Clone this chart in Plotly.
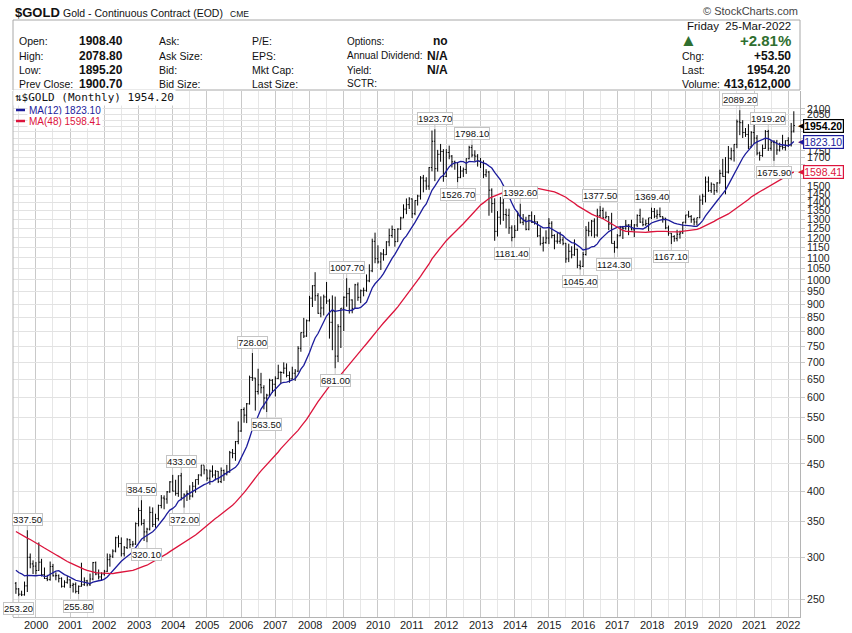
import numpy as np
import pandas as pd
import plotly.graph_objects as go

# ---------------- data (monthly, Jun-1999 .. Mar-2022) ----------------
start_month = "1999-06-01"

opens = [
    268.0, 261.5, 255.6, 254.9, 265.0, 300.0, 291.5,
    288.7, 283.3, 293.7, 278.4, 273.6, 272.3, 288.2, 276.8, 277.0, 273.7, 264.5, 269.1,
    272.0, 265.6, 266.7, 258.7, 264.5, 266.3, 270.8, 266.2, 273.0, 293.1, 279.0, 275.5,
    279.0, 282.3, 296.9, 301.4, 308.2, 326.6, 318.5, 304.6, 312.8, 323.7, 316.9, 317.7,
    347.2, 367.5, 347.5, 334.9, 339.0, 364.5, 346.0, 354.8, 375.6, 388.0, 386.3, 398.4,
    416.1, 399.8, 395.9, 427.3, 388.5, 393.3, 395.8, 391.4, 408.3, 420.4, 428.8, 447.5,
    438.4, 422.9, 435.9, 428.7, 435.7, 416.7, 437.1, 430.9, 434.5, 472.3, 470.8, 495.7,
    518.9, 569.6, 556.0, 584.0, 654.5, 653.0, 616.0, 634.2, 626.3, 598.8, 606.3, 646.7,
    635.7, 652.0, 669.7, 669.0, 681.6, 660.3, 650.9, 666.9, 673.0, 743.0, 795.3, 783.5,
    837.5, 923.7, 975.0, 933.5, 865.1, 885.2, 928.6, 912.4, 831.8, 871.2, 718.3, 816.2,
    884.3, 927.3, 942.0, 916.5, 883.6, 978.8, 927.1, 953.9, 955.5, 995.8, 1040.0, 1182.3,
    1096.2, 1081.0, 1118.9, 1115.5, 1179.2, 1212.2, 1244.5, 1180.4, 1246.9, 1308.3, 1359.4, 1386.1,
    1421.1, 1332.8, 1411.0, 1439.0, 1556.4, 1536.6, 1502.3, 1628.3, 1825.1, 1620.4, 1724.7, 1746.0,
    1566.8, 1738.0, 1711.3, 1669.3, 1664.0, 1560.0, 1604.2, 1614.9, 1691.9, 1776.0, 1719.1, 1710.9,
    1675.8, 1663.4, 1578.1, 1597.1, 1476.1, 1392.6, 1234.5, 1312.4, 1395.8, 1328.0, 1323.6, 1253.0,
    1202.3, 1240.1, 1321.6, 1283.8, 1295.9, 1245.6, 1321.3, 1282.6, 1286.7, 1210.5, 1171.6, 1175.2,
    1199.3, 1278.5, 1212.6, 1183.1, 1182.4, 1189.4, 1171.9, 1095.4, 1132.2, 1114.8, 1142.3, 1065.3,
    1060.3, 1116.4, 1240.5, 1235.1, 1290.5, 1214.9, 1321.0, 1351.3, 1309.3, 1315.8, 1274.2, 1171.3,
    1151.7, 1210.9, 1253.8, 1251.2, 1268.3, 1268.9, 1242.3, 1269.3, 1322.2, 1284.8, 1271.0, 1276.7,
    1309.3, 1345.2, 1318.6, 1327.3, 1315.9, 1307.0, 1253.2, 1224.3, 1206.7, 1196.2, 1219.0, 1226.0,
    1284.7, 1325.2, 1316.1, 1298.5, 1285.7, 1310.2, 1413.7, 1437.8, 1529.4, 1472.9, 1514.8, 1473.2,
    1523.1, 1587.9, 1566.7, 1596.6, 1694.2, 1751.7, 1800.5, 1985.9, 1978.6, 1895.5, 1879.9, 1780.9,
    1895.1, 1850.3, 1733.6, 1715.6, 1769.0, 1903.9, 1770.1, 1817.2, 1818.0, 1757.0, 1783.9, 1776.5,
    1829.7, 1797.0, 1908.4,
]
highs = [
    269.5, 262.5, 259.5, 270.0, 337.5, 305.0, 296.0,
    294.0, 320.0, 298.0, 287.0, 278.0, 294.5, 291.5, 281.0, 278.5, 275.0, 271.5, 276.5,
    272.5, 268.5, 269.0, 265.5, 293.0, 275.0, 272.0, 279.5, 294.0, 294.5, 284.5, 281.0,
    284.0, 305.0, 304.5, 310.5, 328.0, 330.0, 327.0, 315.0, 326.0, 325.0, 322.0, 349.0,
    372.0, 384.5, 354.0, 341.0, 374.0, 372.5, 362.5, 377.0, 393.0, 392.5, 400.0, 417.5,
    429.0, 420.0, 428.0, 433.0, 396.0, 401.0, 410.0, 416.0, 420.5, 430.0, 448.0, 447.0,
    439.0, 439.0, 447.0, 438.0, 436.0, 443.0, 439.0, 448.0, 476.0, 480.0, 497.0, 541.0,
    571.0, 575.0, 586.0, 660.0, 728.0, 654.0, 680.0, 668.0, 633.0, 610.0, 651.0, 650.0,
    658.0, 692.0, 672.0, 699.0, 696.0, 672.0, 686.0, 679.0, 750.0, 796.0, 848.0, 842.0,
    933.0, 977.0, 1033.9, 944.0, 931.0, 938.0, 991.0, 921.0, 935.0, 930.0, 825.0, 885.0,
    931.0, 1007.7, 966.0, 919.0, 983.0, 989.0, 959.0, 967.0, 1024.0, 1070.0, 1196.0, 1227.5,
    1162.0, 1128.0, 1143.0, 1183.0, 1249.0, 1266.0, 1247.0, 1251.0, 1315.0, 1388.0, 1424.0, 1432.0,
    1424.0, 1413.0, 1447.0, 1569.0, 1577.0, 1561.0, 1632.0, 1912.0, 1923.7, 1758.0, 1804.0, 1764.0,
    1764.0, 1791.0, 1719.0, 1678.0, 1667.0, 1640.0, 1628.0, 1695.0, 1790.0, 1798.1, 1755.0, 1726.0,
    1698.0, 1680.0, 1617.0, 1605.0, 1488.0, 1425.0, 1348.0, 1433.0, 1424.0, 1362.0, 1362.0, 1267.0,
    1268.0, 1346.0, 1392.6, 1331.0, 1315.0, 1326.0, 1346.0, 1325.0, 1289.0, 1256.0, 1206.0, 1240.0,
    1307.0, 1290.0, 1219.0, 1225.0, 1232.0, 1205.0, 1174.0, 1170.0, 1157.0, 1192.0, 1145.0, 1088.0,
    1129.0, 1263.0, 1287.0, 1297.0, 1306.0, 1362.0, 1377.5, 1368.0, 1345.0, 1318.0, 1338.0, 1185.0,
    1220.0, 1264.0, 1264.0, 1297.0, 1273.0, 1298.0, 1274.0, 1329.0, 1362.0, 1310.0, 1299.0, 1309.0,
    1369.4, 1366.0, 1356.0, 1369.0, 1318.0, 1309.0, 1266.0, 1226.0, 1214.0, 1243.0, 1238.0, 1286.0,
    1326.0, 1349.0, 1325.0, 1310.0, 1310.0, 1443.0, 1453.0, 1566.0, 1566.0, 1527.0, 1516.0, 1528.0,
    1613.0, 1691.0, 1704.0, 1788.0, 1775.0, 1802.0, 2005.0, 2089.2, 2000.0, 1933.0, 1966.0, 1907.0,
    1962.0, 1875.0, 1745.0, 1799.0, 1916.0, 1919.2, 1836.0, 1834.0, 1836.0, 1814.0, 1877.0, 1832.0,
    1857.0, 1976.0, 2078.8,
]
lows = [
    256.0, 253.2, 253.5, 254.0, 258.0, 286.0, 279.0,
    278.5, 283.0, 276.0, 273.0, 270.5, 271.0, 276.0, 271.5, 269.0, 263.0, 263.0, 267.5,
    262.5, 257.5, 256.5, 255.8, 264.0, 265.0, 264.5, 265.0, 271.5, 277.5, 272.5, 271.5,
    277.0, 281.5, 288.0, 299.0, 306.5, 313.0, 301.0, 301.0, 311.0, 312.0, 314.0, 316.5,
    343.0, 344.5, 322.0, 320.1, 337.0, 342.0, 341.0, 351.5, 371.0, 369.5, 378.5, 397.0,
    399.0, 392.0, 390.0, 384.0, 372.0, 383.0, 385.0, 389.0, 397.0, 411.0, 426.0, 430.0,
    418.0, 411.0, 424.0, 419.0, 414.0, 414.0, 418.0, 428.0, 433.0, 461.0, 456.0, 490.0,
    517.0, 538.0, 537.0, 582.0, 645.0, 567.0, 608.0, 611.0, 570.0, 563.5, 602.0, 612.0,
    603.0, 650.0, 636.0, 665.0, 655.0, 640.0, 648.0, 645.0, 670.0, 732.0, 777.0, 781.0,
    835.0, 889.0, 913.0, 863.0, 850.0, 857.0, 901.0, 775.0, 737.0, 681.0, 700.0, 744.0,
    801.0, 890.0, 864.0, 865.0, 882.0, 913.0, 904.0, 931.0, 950.0, 990.0, 1034.0, 1075.0,
    1073.0, 1044.0, 1087.0, 1114.0, 1157.0, 1200.0, 1155.0, 1180.0, 1242.0, 1307.0, 1330.0, 1360.0,
    1308.0, 1324.0, 1381.0, 1417.0, 1462.0, 1478.0, 1478.0, 1602.0, 1535.0, 1600.0, 1670.0, 1531.0,
    1563.0, 1688.0, 1629.0, 1613.0, 1526.7, 1555.0, 1563.0, 1584.0, 1687.0, 1702.0, 1673.0, 1635.0,
    1625.0, 1555.0, 1562.0, 1321.0, 1338.0, 1185.0, 1207.0, 1271.0, 1292.0, 1251.0, 1221.0, 1181.4,
    1202.0, 1238.0, 1277.0, 1268.0, 1240.0, 1240.0, 1281.0, 1271.0, 1204.0, 1161.0, 1131.0, 1170.0,
    1168.0, 1198.0, 1142.0, 1170.0, 1169.0, 1162.0, 1077.0, 1080.0, 1098.0, 1110.0, 1052.0, 1045.4,
    1058.0, 1111.0, 1208.0, 1208.0, 1200.0, 1206.0, 1310.0, 1303.0, 1305.0, 1241.0, 1171.0, 1124.3,
    1146.0, 1208.0, 1194.0, 1243.0, 1214.0, 1240.0, 1204.0, 1258.0, 1281.0, 1262.0, 1264.0, 1236.0,
    1302.0, 1307.0, 1303.0, 1312.0, 1282.0, 1246.0, 1211.0, 1167.1, 1180.0, 1182.0, 1196.0, 1221.0,
    1277.0, 1310.0, 1281.0, 1266.0, 1267.0, 1306.0, 1385.0, 1400.0, 1465.0, 1459.0, 1446.0, 1460.0,
    1519.0, 1565.0, 1450.0, 1587.0, 1680.0, 1671.0, 1771.0, 1874.0, 1851.0, 1860.0, 1764.0, 1776.0,
    1802.0, 1717.0, 1678.0, 1706.0, 1766.0, 1750.0, 1751.0, 1675.9, 1721.0, 1746.0, 1760.0, 1753.0,
    1780.0, 1784.0, 1895.2,
]
closes = [
    261.5, 255.6, 254.9, 265.0, 300.0, 291.5, 288.7,
    283.3, 293.7, 278.4, 273.6, 272.3, 288.2, 276.8, 277.0, 273.7, 264.5, 269.1, 272.0,
    265.6, 266.7, 258.7, 264.5, 266.3, 270.8, 266.2, 273.0, 293.1, 279.0, 275.5, 279.0,
    282.3, 296.9, 301.4, 308.2, 326.6, 318.5, 304.6, 312.8, 323.7, 316.9, 317.7, 347.2,
    367.5, 347.5, 334.9, 339.0, 364.5, 346.0, 354.8, 375.6, 388.0, 386.3, 398.4, 416.1,
    399.8, 395.9, 427.3, 388.5, 393.3, 395.8, 391.4, 408.3, 420.4, 428.8, 447.5, 438.4,
    422.9, 435.9, 428.7, 435.7, 416.7, 437.1, 430.9, 434.5, 472.3, 470.8, 495.7, 518.9,
    569.6, 556.0, 584.0, 654.5, 653.0, 616.0, 634.2, 626.3, 598.8, 606.3, 646.7, 635.7,
    652.0, 669.7, 669.0, 681.6, 660.3, 650.9, 666.9, 673.0, 743.0, 795.3, 783.5, 837.5,
    923.7, 975.0, 933.5, 865.1, 885.2, 928.6, 912.4, 831.8, 871.2, 718.3, 816.2, 884.3,
    927.3, 942.0, 916.5, 883.6, 978.8, 927.1, 953.9, 955.5, 995.8, 1040.0, 1182.3, 1096.2,
    1081.0, 1118.9, 1115.5, 1179.2, 1212.2, 1244.5, 1180.4, 1246.9, 1308.3, 1359.4, 1386.1, 1421.1,
    1332.8, 1411.0, 1439.0, 1556.4, 1536.6, 1502.3, 1628.3, 1825.1, 1620.4, 1724.7, 1746.0, 1566.8,
    1738.0, 1711.3, 1669.3, 1664.0, 1560.0, 1604.2, 1614.9, 1691.9, 1776.0, 1719.1, 1710.9, 1675.8,
    1663.4, 1578.1, 1597.1, 1476.1, 1392.6, 1234.5, 1312.4, 1395.8, 1328.0, 1323.6, 1253.0, 1202.3,
    1240.1, 1321.6, 1283.8, 1295.9, 1245.6, 1321.3, 1282.6, 1286.7, 1210.5, 1171.6, 1175.2, 1199.3,
    1278.5, 1212.6, 1183.1, 1182.4, 1189.4, 1171.9, 1095.4, 1132.2, 1114.8, 1142.3, 1065.3, 1060.3,
    1116.4, 1240.5, 1235.1, 1290.5, 1214.9, 1321.0, 1351.3, 1309.3, 1315.8, 1274.2, 1171.3, 1151.7,
    1210.9, 1253.8, 1251.2, 1268.3, 1268.9, 1242.3, 1269.3, 1322.2, 1284.8, 1271.0, 1276.7, 1309.3,
    1345.2, 1318.6, 1327.3, 1315.9, 1307.0, 1253.2, 1224.3, 1206.7, 1196.2, 1219.0, 1226.0, 1284.7,
    1325.2, 1316.1, 1298.5, 1285.7, 1310.2, 1413.7, 1437.8, 1529.4, 1472.9, 1514.8, 1473.2, 1523.1,
    1587.9, 1566.7, 1596.6, 1694.2, 1751.7, 1800.5, 1985.9, 1978.6, 1895.5, 1879.9, 1780.9, 1895.1,
    1850.3, 1733.6, 1715.6, 1769.0, 1903.9, 1770.1, 1817.2, 1818.0, 1757.0, 1783.9, 1776.5, 1829.7,
    1797.0, 1900.7, 1954.2,
]
# monthly closes before the visible window (Jul-1995 .. May-1999), used by the moving averages
history_closes = [
    383.4, 382.4, 384.0, 383.0, 387.8, 387.0,
    405.6, 400.7, 396.4, 391.3, 390.6, 382.0, 385.3, 387.1, 379.0, 379.5, 371.3, 369.3,
    345.5, 358.6, 348.2, 340.2, 344.8, 334.6, 326.4, 325.4, 332.1, 311.4, 296.8, 290.2,
    304.8, 297.4, 301.0, 310.7, 293.6, 296.3, 288.9, 273.4, 293.9, 292.3, 294.7, 288.2,
    287.1, 287.3, 279.8, 286.6, 268.6,
]
# pivot labels: (month, 'H' = high above bar, 'L' = low below bar)
pivot_labels = [
    ("1999-10", "H"), ("1999-07", "L"), ("2001-04", "L"), ("2003-02", "H"),
    ("2003-04", "L"), ("2004-04", "H"), ("2004-05", "L"), ("2006-05", "H"),
    ("2006-10", "L"), ("2009-02", "H"), ("2008-10", "L"), ("2011-09", "H"),
    ("2012-05", "L"), ("2012-10", "H"), ("2013-12", "L"), ("2014-03", "H"),
    ("2015-12", "L"), ("2016-07", "H"), ("2016-12", "L"), ("2018-01", "H"),
    ("2018-08", "L"), ("2020-08", "H"), ("2021-06", "H"), ("2021-08", "L"),
]
year_ticks = list(range(2000, 2023))
price_ticks = list(range(250, 2101, 50))
# axis labels that the reference hides behind the right-hand value boxes
hidden_price_labels = [1550, 1600, 1650, 1800, 1850, 1900, 1950, 2000]
volume_text = "413,612,000"
date_text = "Friday  25-Mar-2022"

n = len(closes)
assert len(opens) == n and len(highs) == n and len(lows) == n, (len(opens), len(highs), len(lows), n)
dates = pd.date_range(start_month, periods=n, freq="MS")

all_closes = pd.Series(history_closes + closes)
ma12 = all_closes.rolling(12).mean().values[-n:]
ma48 = all_closes.rolling(48).mean().values[-n:]

NAVY = "#1c1c9c"
RED = "#dc143c"
GREEN = "#2f6f2f"
FONT = "Liberation Sans, Arial, sans-serif"

# plot-area pixel geometry (for decorations in paper coordinates)
L, R, T, B = 13, 800, 91, 617
def px(x):
    return (x - L) / (R - L)
def py(y):
    return (B - y) / (B - T)

fig = go.Figure()
fig.add_trace(go.Ohlc(
    x=dates, open=opens, high=highs, low=lows, close=closes,
    increasing=dict(line=dict(color="black", width=1)),
    decreasing=dict(line=dict(color="black", width=1)),
    tickwidth=0.4, showlegend=False, hoverinfo="skip",
))
fig.add_trace(go.Scatter(x=dates, y=ma12, mode="lines",
                         line=dict(color=NAVY, width=1.3), showlegend=False, hoverinfo="skip"))
fig.add_trace(go.Scatter(x=dates, y=ma48, mode="lines",
                         line=dict(color=RED, width=1.3), showlegend=False, hoverinfo="skip"))

ann = []
shapes = []

def txt(x, y, s, size=10.5, anchor="left", color="#111", bold=False, family=FONT, bg=None):
    d = dict(xref="paper", yref="paper", x=px(x), y=py(y), text=("<b>%s</b>" % s) if bold else s,
             showarrow=False, xanchor=anchor, yanchor="middle",
             font=dict(size=size, color=color, family=family))
    if bg:
        d["bgcolor"] = bg
    ann.append(d)

# title line
txt(13, 12, "$GOLD", size=13, bold=True)
txt(61, 13, "Gold - Continuous Contract (EOD)", size=10.5)
txt(228, 13.5, "CME", size=8.5)
txt(800, 11.5, "© StockCharts.com", size=11, anchor="right", color="#444")

# header box
shapes.append(dict(type="rect", xref="paper", yref="paper", x0=px(13), x1=px(800), y0=py(90), y1=py(20),
                   line=dict(color="#a8a8a8", width=1)))

rows_y = [41.5, 56, 70, 84]
col1 = ["Open:", "High:", "Low:", "Prev Close:"]
val1 = ["%.2f" % opens[-1], "%.2f" % highs[-1], "%.2f" % lows[-1], "%.2f" % closes[-2]]
col2 = ["Ask:", "Ask Size:", "Bid:", "Bid Size:"]
col3 = ["P/E:", "EPS:", "Mkt Cap:", "Last Size:"]
col4 = ["Options:", "Annual Dividend:", "Yield:", "SCTR:"]
val4 = ["no", "N/A", "N/A", ""]
for i, yy in enumerate(rows_y):
    txt(17, yy, col1[i])
    txt(125, yy, val1[i], size=12, anchor="right", bold=True)
    txt(157, yy, col2[i])
    txt(250, yy, col3[i])
    txt(345, yy, col4[i], size=10)
    if val4[i]:
        txt(450, yy, val4[i], size=12, anchor="right", bold=True)

chg = closes[-1] - closes[-2]
pct = chg / closes[-2] * 100
txt(793, 26, date_text, size=11.5, anchor="right")
txt(688, 41, "▲", size=17, anchor="center", color=GREEN)
txt(793, 41, "%+.2f%%" % pct, size=15, anchor="right", color=GREEN, bold=True)
txt(680, 55.5, "Chg:")
txt(793, 55.5, "%+.2f" % chg, size=12, anchor="right", bold=True)
txt(680, 70, "Last:")
txt(793, 70, "%.2f" % closes[-1], size=12, anchor="right", bold=True)
txt(680, 84, "Volume:")
txt(793, 84, volume_text, size=12, anchor="right", bold=True)

# in-chart legend
txt(13, 98, "⇅$GOLD (Monthly) %.2f" % closes[-1], size=11, family="DejaVu Sans Mono, monospace",
    bg="white")
txt(27, 110, "MA(12) %.2f" % ma12[-1], size=10, color=NAVY, bg="white")
txt(27, 121, "MA(48) %.2f" % ma48[-1], size=10, color=RED, bg="white")
shapes.append(dict(type="line", xref="paper", yref="paper", x0=px(16), x1=px(25), y0=py(110), y1=py(110),
                   line=dict(color=NAVY, width=2.5)))
shapes.append(dict(type="line", xref="paper", yref="paper", x0=px(16), x1=px(25), y0=py(121), y1=py(121),
                   line=dict(color=RED, width=2.5)))

# year labels under the plot
for yv in year_ticks:
    ann.append(dict(x="%d-01-01" % yv, y=py(625), xref="x", yref="paper", text=str(yv),
                    showarrow=False, xanchor="center", yanchor="middle",
                    font=dict(size=11, color="#222", family=FONT)))

# pivot labels
idx = {d.strftime("%Y-%m"): i for i, d in enumerate(dates)}
for m, kind in pivot_labels:
    i = idx[m]
    v = highs[i] if kind == "H" else lows[i]
    ann.append(dict(
        x=dates[i], y=np.log10(v), xref="x", yref="y", text="%.2f" % v,
        showarrow=True, arrowhead=0, arrowwidth=1, arrowcolor="#c4c4c4",
        ax=0, ay=-11 if kind == "H" else 12, standoff=0,
        bgcolor="white", bordercolor="#c4c4c4", borderwidth=1, borderpad=0,
        font=dict(size=9.5, color="#111", family=FONT),
    ))

# right-side value boxes
for v, col, bold in [(closes[-1], "black", True), (ma12[-1], NAVY, False), (ma48[-1], RED, False)]:
    ann.append(dict(
        x=px(803), y=np.log10(v), xref="paper", yref="y",
        text=("<b>%.2f</b>" if bold else "%.2f") % v,
        showarrow=False, xanchor="left", yanchor="middle",
        bgcolor="white", bordercolor=col, borderwidth=1.2, borderpad=0,
        font=dict(size=10.5, color=col, family=FONT),
    ))
    ann.append(dict(
        x=px(801), y=np.log10(v), xref="paper", yref="y", text="◀",
        showarrow=False, xanchor="center", yanchor="middle",
        font=dict(size=7, color=col, family="DejaVu Sans"),
    ))

fig.update_layout(
    width=852, height=633,
    margin=dict(l=L, r=852 - R, t=T, b=633 - B, autoexpand=False),
    paper_bgcolor="white", plot_bgcolor="white",
    font=dict(family=FONT, size=11, color="#222"),
    showlegend=False, hovermode=False,
    annotations=ann, shapes=shapes,
    xaxis=dict(
        type="date", range=["1999-05-01", "2022-05-06"],
        rangeslider=dict(visible=False), automargin=False,
        tickmode="array", tickvals=["%d-01-01" % y for y in year_ticks],
        showticklabels=False,
        showgrid=True, gridcolor="#c9c9c9", gridwidth=1,
        minor=dict(tickmode="array", tickvals=["%d-07-01" % y for y in range(1999, 2022)],
                   showgrid=True, gridcolor="#e6e6e6", gridwidth=1),
        showline=True, linecolor="#b4b4b4", linewidth=1, mirror=False,
        ticks="", zeroline=False,
    ),
    yaxis=dict(
        type="log", side="right", automargin=False,
        range=[np.log10(231.5), np.log10(2270)],
        tickmode="array", tickvals=price_ticks,
        ticktext=["" if t in hidden_price_labels else str(t) for t in price_ticks],
        showgrid=True, gridcolor="#e2e2e2", gridwidth=1,
        showline=True, linecolor="#b4b4b4", linewidth=1,
        ticks="outside", ticklen=4, tickcolor="#c8c8c8",
        tickfont=dict(size=10.5, color="#222"),
        zeroline=False,
    ),
)
# left border of plot area
fig.add_shape(type="line", xref="paper", yref="paper", x0=0, x1=0, y0=0, y1=1,
              line=dict(color="#b4b4b4", width=1))

fig.write_html("out.html", config={"displayModeBar": False},
               post_script="document.body.style.margin='0';document.body.style.overflow='hidden';")
